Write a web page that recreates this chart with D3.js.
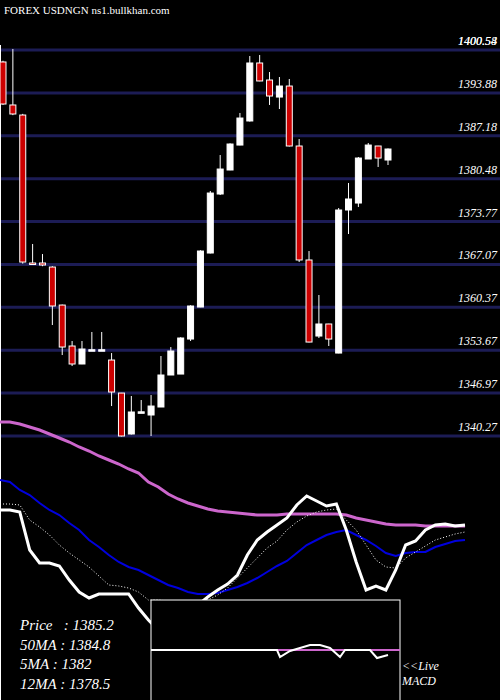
<!DOCTYPE html>
<html><head><meta charset="utf-8">
<script src="https://cdn.jsdelivr.net/npm/d3@7"></script>
<style>body{margin:0;background:#000}svg{display:block}</style>
</head><body>
<svg id="c" width="500" height="700"></svg>
<script>
const opens  = [1398.71,1391.99,1390.42,1367.30,1367.30,1366.67,1360.73,1354.33,1351.52,1353.70,1353.70,1352.14,1346.98,1340.58,1344.00,1343.55,1344.80,1349.80,1349.95,1355.42,1360.42,1368.86,1378.08,1381.83,1385.73,1389.49,1398.55,1395.89,1393.23,1394.95,1385.58,1367.77,1355.89,1357.77,1353.23,1375.58,1376.67,1383.55,1385.58,1383.39];
const highs  = [1398.90,1400.74,1390.60,1370.27,1368.70,1366.80,1360.80,1355.11,1355.11,1356.52,1356.52,1353.23,1347.00,1346.52,1345.89,1346.67,1352.77,1354.17,1355.70,1360.70,1369.30,1378.55,1384.17,1386.00,1390.74,1399.64,1399.80,1397.14,1396.36,1396.05,1386.67,1369.17,1362.30,1357.80,1375.89,1379.80,1383.86,1386.05,1385.60,1385.20];
const lows   = [1392.00,1390.40,1367.20,1367.00,1366.80,1357.61,1352.92,1351.20,1351.50,1353.60,1353.60,1344.95,1340.20,1340.50,1343.90,1340.27,1344.80,1349.80,1350.11,1355.11,1360.40,1368.80,1377.92,1381.80,1385.70,1389.40,1395.70,1391.99,1391.36,1385.50,1367.45,1354.90,1355.58,1354.33,1353.20,1371.83,1376.05,1383.55,1382.30,1382.61];
const closes = [1392.14,1390.58,1367.45,1367.14,1366.99,1360.58,1354.17,1351.52,1353.86,1353.75,1353.75,1347.14,1340.27,1344.02,1344.05,1344.95,1349.80,1353.55,1355.58,1360.58,1369.17,1378.23,1381.98,1385.89,1389.95,1398.55,1395.74,1393.39,1394.95,1385.58,1367.77,1354.95,1357.77,1355.42,1375.58,1377.30,1383.70,1385.73,1383.70,1385.11];
const priceTicks = [1400.58,1393.88,1387.18,1380.48,1373.77,1367.07,1360.37,1353.67,1346.97,1340.27];
const topLabel2 = "1400.54";
// lower indicator panel (arbitrary units)
const ma200 = [422,422,424,427,430,434,438,442,447,451,456,460,464,469,473,482,487,494,499,503,506,509,511,512,513,514,515,515,515,514,514,514,514,514,514,515,518,520,522,524,525,525,525,526,526,526,526,526];
const maBlue = [480,482,490,495,503,510,515,523,530,540,547,555,562,567,570,575,580,585,588,592,594,594,593,590,587,583,578,572,566,561,553,545,540,535,532,530,535,540,546,553,556,553,552,552,547,544,541,540];
const maDot = [504,504,505,520,527,535,545,553,560,567,576,585,586,588,592,600,600,601,602,603,603,600,595,588,578,568,558,548,541,530,522,516,512,510,509,520,530,545,560,567,568,558,552,546,540,537,534,532];
const maThick = [510,510,512,550,563,563,566,580,592,598,594,594,594,594,608,620,630,635,635,625,605,597,590,584,575,555,540,532,525,518,505,496,501,506,504,530,562,590,586,590,570,545,541,530,525,524,526,525];
const macdX = [151,277,280,290,300,310,320,330,340,345,370,377,388];
const macdV = [0,0,-7,-1,2,5,5,2,-7,0,0,-8,-5];
const legend = ["Price   : 1385.2","50MA : 1384.8","5MA : 1382","12MA : 1378.5"];

const svg = d3.select("#c");
svg.append("rect").attr("width",500).attr("height",700).attr("fill","#000");
const y = d3.scaleLinear().domain([1340.27,1400.58]).range([436,50]);
const x = d3.scaleLinear().domain([0,39]).range([3,388]);
const serif = "'Liberation Serif','DejaVu Serif',serif";

svg.selectAll(".grid").data(priceTicks).join("line")
 .attr("x1",0).attr("x2",500).attr("y1",d=>y(d)).attr("y2",d=>y(d))
 .attr("stroke","#1c1c55").attr("stroke-width",3);
svg.selectAll(".pl").data(priceTicks).join("text")
 .attr("x",497).attr("y",d=>y(d)-5).attr("text-anchor","end")
 .attr("fill","#fff").attr("font-family",serif).attr("font-style","italic").attr("font-size",12)
 .text(d=>d.toFixed(2));
svg.append("text").attr("x",497).attr("y",y(priceTicks[0])-5).attr("text-anchor","end")
 .attr("fill","#fff").attr("font-family",serif).attr("font-style","italic").attr("font-size",12).text(topLabel2);
svg.append("text").attr("x",4).attr("y",14).attr("fill","#fff").attr("font-family",serif).attr("font-size",11)
 .text("FOREX  USDNGN  ns1.bullkhan.com");
svg.append("line").attr("x1",0.5).attr("x2",0.5).attr("y1",45).attr("y2",700).attr("stroke","#fff").attr("stroke-width",1);

// lower panel scales
const lx = d3.scaleLinear().domain([0,ma200.length-1]).range([0,465]);
const ly = d3.scaleLinear().domain([400,700]).range([400,700]);
const ln = d3.line().x((d,i)=>lx(i)).y(d=>ly(d));
svg.append("path").attr("d",ln(ma200)).attr("fill","none").attr("stroke","#cc66cc").attr("stroke-width",3);
svg.append("path").attr("d",ln(maBlue)).attr("fill","none").attr("stroke","#0000dd").attr("stroke-width",2);
svg.append("path").attr("d",ln(maDot)).attr("fill","none").attr("stroke","#fff").attr("stroke-width",1).attr("stroke-dasharray","1,2");
svg.append("path").attr("d",ln(maThick)).attr("fill","none").attr("stroke","#fff").attr("stroke-width",3);

// candles
const g = svg.append("g");
opens.forEach((o,i)=>{
  const c = closes[i], cx = x(i), up = c>=o;
  g.append("line").attr("x1",cx).attr("x2",cx).attr("y1",y(highs[i])).attr("y2",y(lows[i])).attr("stroke","#fff").attr("stroke-width",1);
  const t = y(Math.max(o,c)), b = y(Math.min(o,c));
  g.append("rect").attr("x",cx-3).attr("width",6).attr("y",t).attr("height",Math.max(1.5,b-t))
   .attr("fill",up?"#fff":"#cc0000").attr("stroke","#fff").attr("stroke-width",1);
});

// MACD box
svg.append("rect").attr("x",151).attr("y",600).attr("width",249).attr("height",102).attr("fill","#000").attr("stroke","#fff").attr("stroke-width",1);
svg.append("line").attr("x1",151).attr("x2",400).attr("y1",650).attr("y2",650).attr("stroke","#cc66cc").attr("stroke-width",2);
const my = d3.scaleLinear().domain([0,10]).range([650,640]);
svg.append("path").attr("d",d3.line().x((d,i)=>macdX[i]).y(d=>my(d))(macdV)).attr("fill","none").attr("stroke","#fff").attr("stroke-width",2);

svg.selectAll(".lg").data(legend).join("text")
 .attr("x",20).attr("y",(d,i)=>630+i*19.5).attr("fill","#fff").attr("font-family",serif).attr("font-style","italic").attr("font-size",15)
 .attr("xml:space","preserve").style("white-space","pre").text(d=>d);
svg.append("text").attr("x",402).attr("y",670).attr("fill","#fff").attr("font-family",serif).attr("font-style","italic").attr("font-size",12).text("<<Live");
svg.append("text").attr("x",402).attr("y",685).attr("fill","#fff").attr("font-family",serif).attr("font-style","italic").attr("font-size",12).text("MACD");
</script>
</body></html>
